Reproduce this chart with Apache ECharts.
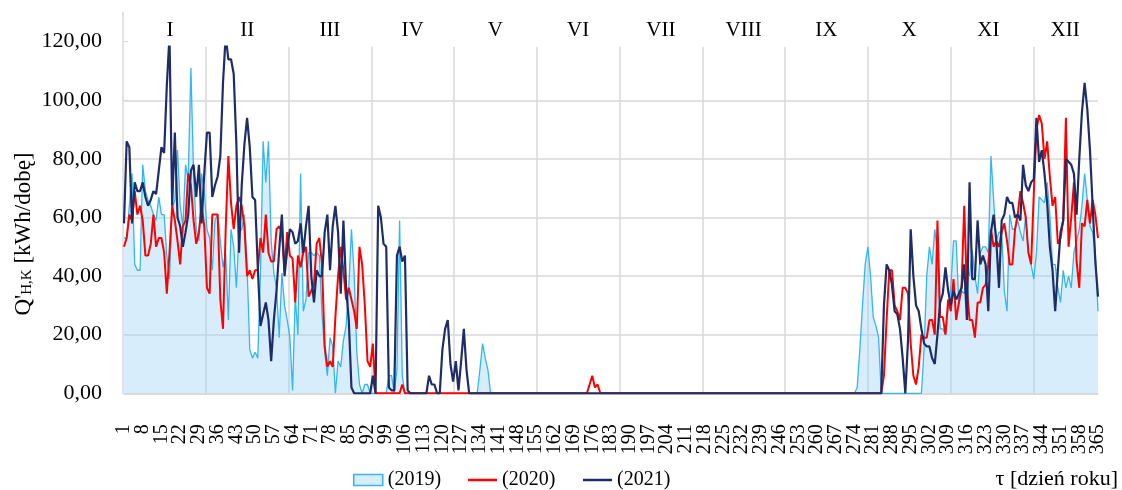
<!DOCTYPE html>
<html>
<head>
<meta charset="utf-8">
<script src="https://cdn.jsdelivr.net/npm/echarts@6/dist/echarts.min.js"></script>
<style>
html,body{margin:0;padding:0;background:#fff;}
#c{width:1122px;height:490px;}
</style>
</head>
<body>
<div id="c"></div>
<script>
// ---- DATA ----
const months = ['I','II','III','IV','V','VI','VII','VIII','IX','X','XI','XII'];
const seriesNames = ['(2019)', '(2020)', '(2021)'];
const labelStep = 7; // a day-of-year label every 7 days: 1, 8, 15, ..., 365

// daily values, day 1 .. 365 (rows of 10 days)
const y2019 = [
  53,53,64,75,44,42,42,78,69,66,
  64,61,59,67,61,61,47,39,63,66,
  83,64,57,78,73,111,75,56,52,75,
  69,56,53,42,59,61,52,43,48,25,
  56,50,36,55,56,61,43,15,12,14,
  12,41,86,72,86,52,41,36,19,41,
  30,25,19,1,33,20,75,28,32,48,
  48,47,48,47,27,14,6,19,16,0,
  11,9,18,23,36,56,41,14,3,0,
  3,3,0,0,0,0,0,0,0,6,
  6,0,8,59,6,0,0,0,0,0,
  0,0,0,0,0,0,0,0,0,0,
  0,0,0,0,0,0,0,0,0,0,
  0,0,0,8,17,12,8,0,0,0,
  0,0,0,0,0,0,0,0,0,0,
  0,0,0,0,0,0,0,0,0,0,
  0,0,0,0,0,0,0,0,0,0,
  0,0,0,0,0,0,0,0,0,0,
  0,0,0,0,0,0,0,0,0,0,
  0,0,0,0,0,0,0,0,0,0,
  0,0,0,0,0,0,0,0,0,0,
  0,0,0,0,0,0,0,0,0,0,
  0,0,0,0,0,0,0,0,0,0,
  0,0,0,0,0,0,0,0,0,0,
  0,0,0,0,0,0,0,0,0,0,
  0,0,0,0,0,0,0,0,0,0,
  0,0,0,0,0,0,0,0,0,0,
  0,0,0,0,2,15,30,44,50,40,
  26,23,19,0,0,0,0,0,0,0,
  0,0,0,0,0,0,0,0,0,15,
  40,50,44,56,48,22,22,20,29,36,
  52,52,30,35,34,43,40,49,40,34,
  48,50,50,48,81,66,52,55,55,35,
  28,61,56,56,59,55,52,61,48,44,
  39,48,67,66,65,72,61,44,44,36,
  31,42,36,40,36,48,52,56,64,75,
  66,57,55,48,28
];

const y2020 = [
  50,53,61,59,69,61,64,59,47,47,
  51,61,50,53,53,48,34,48,64,59,
  52,44,57,59,75,71,59,51,55,64,
  57,36,34,61,61,61,32,22,56,81,
  65,56,64,67,64,57,40,42,39,42,
  42,53,48,61,48,45,45,56,57,55,
  42,55,47,46,31,47,43,48,50,33,
  35,37,51,53,44,16,9,11,9,26,
  40,50,42,32,36,32,28,22,50,44,
  30,11,9,17,0,0,0,0,0,0,
  0,0,0,0,3,0,0,0,0,0,
  0,0,0,0,0,0,0,0,0,0,
  0,0,0,0,0,0,0,0,0,0,
  0,0,0,0,0,0,0,0,0,0,
  0,0,0,0,0,0,0,0,0,0,
  0,0,0,0,0,0,0,0,0,0,
  0,0,0,0,0,0,0,0,0,0,
  0,0,0,0,3,6,2,3,0,0,
  0,0,0,0,0,0,0,0,0,0,
  0,0,0,0,0,0,0,0,0,0,
  0,0,0,0,0,0,0,0,0,0,
  0,0,0,0,0,0,0,0,0,0,
  0,0,0,0,0,0,0,0,0,0,
  0,0,0,0,0,0,0,0,0,0,
  0,0,0,0,0,0,0,0,0,0,
  0,0,0,0,0,0,0,0,0,0,
  0,0,0,0,0,0,0,0,0,0,
  0,0,0,0,0,0,0,0,0,0,
  0,0,0,0,6,25,42,42,30,28,
  25,36,36,34,17,6,3,9,20,19,
  19,25,25,20,59,26,26,20,32,28,
  39,25,31,36,64,36,25,25,19,31,
  31,36,37,44,56,50,52,50,55,58,
  52,44,44,56,61,69,65,60,48,44,
  68,90,95,92,80,86,74,64,67,51,
  53,59,94,50,60,72,45,36,58,57,
  66,58,66,61,53
];

const y2021 = [
  58,86,84,58,72,69,69,72,67,64,
  66,69,68,76,84,82,105,122,64,89,
  60,57,50,55,61,76,78,67,78,58,
  75,89,89,67,71,74,81,106,122,114,
  114,109,85,48,71,85,94,84,67,66,
  43,23,27,31,25,11,25,35,49,61,
  40,49,56,55,51,52,58,48,57,64,
  40,31,42,40,40,55,61,42,57,64,
  55,34,59,36,25,2,0,0,0,0,
  0,0,0,6,0,64,60,51,50,2,
  1,1,47,50,45,47,1,0,0,0,
  0,0,0,0,6,3,3,0,0,15,
  22,25,10,4,11,1,11,22,8,0,
  0,0,0,0,0,0,0,0,0,0,
  0,0,0,0,0,0,0,0,0,0,
  0,0,0,0,0,0,0,0,0,0,
  0,0,0,0,0,0,0,0,0,0,
  0,0,0,0,0,0,0,0,0,0,
  0,0,0,0,0,0,0,0,0,0,
  0,0,0,0,0,0,0,0,0,0,
  0,0,0,0,0,0,0,0,0,0,
  0,0,0,0,0,0,0,0,0,0,
  0,0,0,0,0,0,0,0,0,0,
  0,0,0,0,0,0,0,0,0,0,
  0,0,0,0,0,0,0,0,0,0,
  0,0,0,0,0,0,0,0,0,0,
  0,0,0,0,0,0,0,0,0,0,
  0,0,0,0,0,0,0,0,0,0,
  0,0,0,0,30,44,42,37,28,27,
  22,12,0,18,56,40,30,28,22,17,
  16,16,12,10,20,31,34,43,35,30,
  35,32,34,36,44,25,72,39,39,59,
  44,47,44,28,55,61,52,36,59,61,
  67,65,65,60,61,59,78,71,69,72,
  73,94,79,83,75,65,50,42,28,42,
  55,59,80,79,78,75,61,80,96,106,
  97,83,64,45,33
];

// day-of-year categories 1..365
const days = y2019.map((_, i) => String(i + 1));

// ---- CHART ----
const FONT = '"Liberation Serif", "Times New Roman", serif';
const GRID_C = '#d9d9d9';
const NONE = 'rgba(0,0,0,0)';
const fmt = v => v.toFixed(2).replace('.', ',');

const monthLineColors = [NONE].concat(months.slice(1).map(() => GRID_C)).concat([NONE]);
// small horizontal nudges of a few month labels (as placed in the original)
const monthStyle = {I: 'r', XI: 'l', XII: 'll'};

const chart = echarts.init(document.getElementById('c'), null, {renderer: 'canvas'});
const option = {
  animation: false,
  backgroundColor: '#ffffff',
  grid: [
    {left: 124, right: 24, top: 46.7, bottom: 96.7},
    {left: 123, right: 6, top: 46.7, bottom: 96.7},
    {left: 123, right: 22, top: 12.4, bottom: 96.7}
  ],
  title: {
    text: 'τ [dzień roku]',
    right: 4, top: 468, padding: 0,
    textStyle: {fontFamily: FONT, fontSize: 22, fontWeight: 'normal', color: '#000'}
  },
  legend: [
    {
      data: [{name: seriesNames[0], icon: 'rect',
        itemStyle: {color: '#d8edfb', borderColor: '#33b7ef', borderWidth: 1.5}}],
      left: 353, top: 470, padding: 0, itemWidth: 29, itemHeight: 11, itemGap: 0,
      textStyle: {fontFamily: FONT, fontSize: 20, color: '#000'}
    },
    {
      data: [{name: seriesNames[1], icon: 'rect'}],
      left: 468, top: 470, padding: 0, itemWidth: 29, itemHeight: 2.5,
      textStyle: {fontFamily: FONT, fontSize: 20, color: '#000'}
    },
    {
      data: [{name: seriesNames[2], icon: 'rect'}],
      left: 583, top: 470, padding: 0, itemWidth: 29, itemHeight: 2.5,
      textStyle: {fontFamily: FONT, fontSize: 20, color: '#000'}
    }
  ],
  xAxis: [
    {
      gridIndex: 0, type: 'category', data: days, boundaryGap: false, position: 'bottom',
      axisLine: {show: true, lineStyle: {color: GRID_C, width: 1.5}},
      axisTick: {show: false},
      splitLine: {show: false},
      axisLabel: {
        interval: 0, rotate: 90, margin: 31, align: 'right', verticalAlign: 'middle',
        fontFamily: FONT, fontSize: 20, color: '#000', hideOverlap: false,
        formatter: (value, index) => (index % labelStep === 0 ? value : '')
      }
    },
    {
      gridIndex: 1, type: 'category', data: months, position: 'top', boundaryGap: true,
      axisLine: {show: false}, axisTick: {show: false},
      axisLabel: {
        margin: 6, interval: 0, fontFamily: FONT, fontSize: 21, color: '#000',
        formatter: v => (monthStyle[v] ? '{' + monthStyle[v] + '|' + v + '}' : v),
        rich: {
          r: {fontFamily: FONT, fontSize: 21, color: '#000', padding: [0, 0, 0, 11]},
          l: {fontFamily: FONT, fontSize: 21, color: '#000', padding: [0, 7, 0, 0]},
          ll: {fontFamily: FONT, fontSize: 21, color: '#000', padding: [0, 19, 0, 0]}
        }
      },
      splitLine: {show: true, interval: 0, lineStyle: {color: monthLineColors, width: 1.5}}
    },
    {gridIndex: 2, type: 'value', min: 0, max: 1, show: false}
  ],
  yAxis: [
    {
      gridIndex: 0, type: 'value', min: 0, max: 118.3, interval: 20,
      axisLine: {show: false}, axisTick: {show: false}, axisLabel: {show: false},
      splitLine: {show: true, lineStyle: {color: [GRID_C, GRID_C, GRID_C, GRID_C, GRID_C, GRID_C, NONE], width: 1.5}},
      name: "Q'{sub|H,K} [kWh/dobę]",
      nameLocation: 'middle', nameRotate: 90, nameGap: 89,
      nameTextStyle: {
        fontFamily: FONT, fontSize: 23, color: '#000', padding: [0, 28, 0, 0],
        rich: {sub: {fontFamily: FONT, fontSize: 15, color: '#000', verticalAlign: 'bottom'}}
      }
    },
    {gridIndex: 1, type: 'value', min: 0, max: 1, show: false},
    {
      gridIndex: 2, type: 'value', min: 0, max: 130, interval: 20,
      axisLine: {show: true, lineStyle: {color: GRID_C, width: 1.5}},
      axisTick: {show: true, inside: true, length: 5, lineStyle: {color: GRID_C}},
      splitLine: {show: false},
      axisLabel: {margin: 21, fontFamily: FONT, fontSize: 22, color: '#000',
        formatter: fmt, showMaxLabel: false}
    }
  ],
  series: [
    {
      name: seriesNames[0], type: 'line', xAxisIndex: 0, yAxisIndex: 0,
      data: y2019, symbol: 'none', showSymbol: false,
      lineStyle: {color: '#33b7ef', width: 1.3}, itemStyle: {color: '#33b7ef'},
      areaStyle: {color: 'rgba(158,210,245,0.4)', opacity: 1}, z: 2
    },
    {
      name: seriesNames[1], type: 'line', xAxisIndex: 0, yAxisIndex: 0,
      data: y2020, symbol: 'none', showSymbol: false,
      lineStyle: {color: '#ff0000', width: 2}, itemStyle: {color: '#ff0000'}, z: 3
    },
    {
      name: seriesNames[2], type: 'line', xAxisIndex: 0, yAxisIndex: 0,
      data: y2021, symbol: 'none', showSymbol: false,
      lineStyle: {color: '#1f2d66', width: 2.2}, itemStyle: {color: '#1f2d66'}, z: 4
    }
  ]
};
chart.setOption(option);
if (y2019.length !== 365 || y2020.length !== 365 || y2021.length !== 365) {
  console.error('length', y2019.length, y2020.length, y2021.length);
}
</script>
</body>
</html>
